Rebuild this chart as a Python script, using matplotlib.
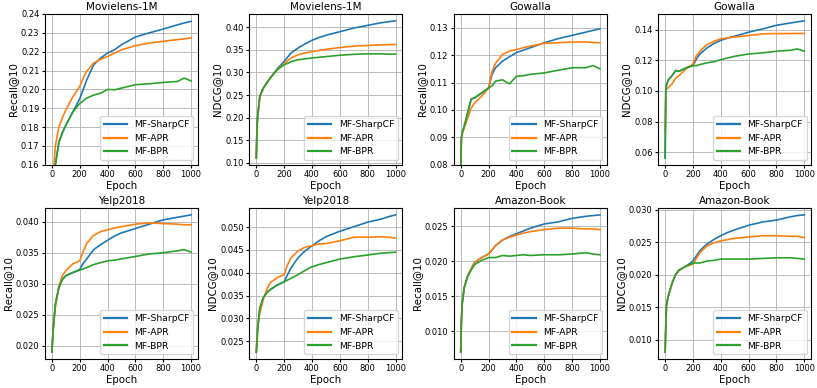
import matplotlib
matplotlib.use('Agg')
import matplotlib.pyplot as plt
from matplotlib.ticker import MultipleLocator

epochs = [0, 5, 10, 25, 50, 75, 100, 150, 200, 225, 250, 300, 350, 400, 450,
          500, 600, 700, 800, 900, 950, 1000]

# Movielens-1M Recall@10
ml_recall_sharp = [0.100, 0.120, 0.135, 0.160, 0.172, 0.177, 0.181, 0.188, 0.1950, 0.2000, 0.2050,
                   0.2130, 0.2166, 0.2193, 0.2210, 0.2237, 0.2278, 0.2300, 0.2320, 0.2342, 0.2352, 0.2361]
ml_recall_apr = [0.110, 0.130, 0.155, 0.170, 0.180, 0.185, 0.189, 0.196, 0.2016, 0.2060, 0.2096,
                 0.2140, 0.2160, 0.2175, 0.2193, 0.2210, 0.2232, 0.2246, 0.2255, 0.2264, 0.2268, 0.2273]
ml_recall_bpr = [0.100, 0.120, 0.135, 0.160, 0.172, 0.177, 0.181, 0.188, 0.1925, 0.1940, 0.1954,
                 0.1970, 0.1980, 0.2000, 0.1998, 0.2007, 0.2025, 0.2030, 0.2037, 0.2042, 0.2060, 0.2045]

# Movielens-1M NDCG@10
ml_ndcg_sharp = [0.111, 0.180, 0.203, 0.247, 0.265, 0.277, 0.2875, 0.308, 0.324, 0.334, 0.343,
                 0.354, 0.363, 0.371, 0.377, 0.382, 0.390, 0.398, 0.404, 0.410, 0.412, 0.414]
ml_ndcg_apr = [0.111, 0.180, 0.203, 0.247, 0.265, 0.277, 0.2875, 0.306, 0.319, 0.326, 0.332,
               0.339, 0.343, 0.346, 0.3485, 0.351, 0.355, 0.358, 0.3596, 0.361, 0.3615, 0.3618]
ml_ndcg_bpr = [0.111, 0.180, 0.203, 0.247, 0.265, 0.277, 0.2875, 0.306, 0.317, 0.320, 0.324,
               0.328, 0.330, 0.332, 0.3335, 0.335, 0.338, 0.340, 0.341, 0.341, 0.3405, 0.3404]

# Gowalla Recall@10
gw_recall_sharp = [0.078, 0.090, 0.0916, 0.094, 0.099, 0.104, 0.1044, 0.1062, 0.108, 0.1129, 0.1154,
                   0.1178, 0.1194, 0.1209, 0.1218, 0.1227, 0.1245, 0.1260, 0.1272, 0.1284, 0.1290, 0.1296]
gw_recall_apr = [0.078, 0.090, 0.0910, 0.0934, 0.097, 0.1007, 0.1026, 0.105, 0.108, 0.1141, 0.1170,
                 0.1202, 0.1215, 0.1220, 0.1227, 0.1233, 0.1243, 0.1245, 0.1248, 0.1248, 0.1246, 0.1245]
gw_recall_bpr = [0.078, 0.090, 0.0916, 0.094, 0.099, 0.104, 0.1044, 0.1062, 0.108, 0.1088, 0.1105,
                 0.1110, 0.1095, 0.1123, 0.1125, 0.1130, 0.1135, 0.1145, 0.1154, 0.1154, 0.1162, 0.1150]

# Gowalla NDCG@10
gw_ndcg_sharp = [0.0563, 0.100, 0.1042, 0.1075, 0.110, 0.1133, 0.1128, 0.115, 0.1165, 0.1209, 0.1241,
                 0.1280, 0.1309, 0.1330, 0.1345, 0.1357, 0.1383, 0.1404, 0.1428, 0.1443, 0.1450, 0.1457]
gw_ndcg_apr = [0.073, 0.1013, 0.101, 0.1024, 0.1046, 0.1083, 0.110, 0.1143, 0.1176, 0.1230, 0.1259,
               0.1302, 0.1324, 0.1339, 0.1346, 0.1352, 0.1361, 0.1372, 0.1374, 0.1374, 0.1375, 0.1374]
gw_ndcg_bpr = [0.0563, 0.100, 0.1042, 0.1075, 0.110, 0.1133, 0.1128, 0.115, 0.1165, 0.1165, 0.1172,
               0.1183, 0.1190, 0.1204, 0.1215, 0.1226, 0.1241, 0.1248, 0.1259, 0.1265, 0.1274, 0.1259]

# Yelp2018 Recall@10
yp_recall_sharp = [0.019, 0.021, 0.0228, 0.0267, 0.0294, 0.0307, 0.0313, 0.0318, 0.0323, 0.0333, 0.0340,
                   0.0355, 0.0363, 0.0370, 0.0377, 0.0382, 0.0389, 0.0396, 0.0403, 0.0407, 0.0409, 0.0411]
yp_recall_apr = [0.019, 0.021, 0.0231, 0.0262, 0.0296, 0.0313, 0.0321, 0.0332, 0.0337, 0.0352, 0.0365,
                 0.0378, 0.0384, 0.0387, 0.0390, 0.0392, 0.0396, 0.0398, 0.0397, 0.0396, 0.0395, 0.0395]
yp_recall_bpr = [0.019, 0.021, 0.0228, 0.0267, 0.0294, 0.0307, 0.0313, 0.0318, 0.0322, 0.0324, 0.0326,
                 0.0331, 0.0334, 0.0337, 0.0338, 0.0340, 0.0344, 0.0348, 0.0350, 0.0353, 0.0355, 0.0351]

# Yelp2018 NDCG@10
yp_ndcg_sharp = [0.0226, 0.025, 0.0278, 0.0322, 0.0345, 0.0356, 0.0363, 0.0373, 0.0380, 0.0396, 0.0411,
                 0.0433, 0.0448, 0.0459, 0.0470, 0.0479, 0.0491, 0.0501, 0.0511, 0.0518, 0.0523, 0.0527]
yp_ndcg_apr = [0.0226, 0.026, 0.0282, 0.0311, 0.0341, 0.0363, 0.0378, 0.0389, 0.0396, 0.0418, 0.0433,
               0.0448, 0.0456, 0.0459, 0.0463, 0.0464, 0.0470, 0.0478, 0.0478, 0.0479, 0.0478, 0.0476]
yp_ndcg_bpr = [0.0226, 0.025, 0.0278, 0.0322, 0.0345, 0.0356, 0.0363, 0.0373, 0.0380, 0.0384, 0.0388,
               0.0396, 0.0405, 0.0413, 0.0418, 0.0422, 0.0430, 0.0435, 0.0439, 0.0443, 0.0444, 0.0445]

# Amazon-Book Recall@10
ab_recall_sharp = [0.0070, 0.0114, 0.0138, 0.0162, 0.0179, 0.0189, 0.0198, 0.0205, 0.0210, 0.0216, 0.0222,
                   0.0230, 0.0235, 0.0239, 0.0243, 0.0247, 0.0253, 0.0256, 0.0261, 0.0264, 0.0265, 0.0266]
ab_recall_apr = [0.0070, 0.0114, 0.0138, 0.0162, 0.0179, 0.0189, 0.0198, 0.0205, 0.0210, 0.0216, 0.0222,
                 0.0230, 0.0234, 0.0237, 0.0240, 0.0242, 0.0245, 0.0247, 0.0247, 0.0246, 0.0246, 0.0245]
ab_recall_bpr = [0.0070, 0.0114, 0.0138, 0.0162, 0.0178, 0.0187, 0.0195, 0.0201, 0.0205, 0.0205, 0.0205,
                 0.0208, 0.0207, 0.0208, 0.0209, 0.0208, 0.0209, 0.0209, 0.0210, 0.0212, 0.0210, 0.0209]

# Amazon-Book NDCG@10
ab_ndcg_sharp = [0.0081, 0.0122, 0.0154, 0.0169, 0.0187, 0.0200, 0.0207, 0.0213, 0.0221, 0.0229, 0.0237,
                 0.0247, 0.0254, 0.0260, 0.0265, 0.0269, 0.0276, 0.0281, 0.0284, 0.0289, 0.0291, 0.0292]
ab_ndcg_apr = [0.0081, 0.0122, 0.0154, 0.0169, 0.0187, 0.0200, 0.0207, 0.0213, 0.0216, 0.0225, 0.0234,
               0.0244, 0.0249, 0.0252, 0.0254, 0.0256, 0.0258, 0.0260, 0.0260, 0.0259, 0.0259, 0.0257]
ab_ndcg_bpr = [0.0081, 0.0122, 0.0154, 0.0169, 0.0187, 0.0200, 0.0207, 0.0213, 0.0218, 0.0218, 0.0218,
               0.0221, 0.0222, 0.0224, 0.0224, 0.0224, 0.0224, 0.0225, 0.0226, 0.0226, 0.0225, 0.0224]

methods = ['MF-SharpCF', 'MF-APR', 'MF-BPR']
colors = ['#1f77b4', '#ff7f0e', '#2ca02c']

# (title, ylabel, series, fixed ylim, y tick step)
panels = [
    ('Movielens-1M', 'Recall@10', [ml_recall_sharp, ml_recall_apr, ml_recall_bpr], (0.16, 0.24), 0.01),
    ('Movielens-1M', 'NDCG@10', [ml_ndcg_sharp, ml_ndcg_apr, ml_ndcg_bpr], None, 0.05),
    ('Gowalla', 'Recall@10', [gw_recall_sharp, gw_recall_apr, gw_recall_bpr], (0.08, 0.135), 0.01),
    ('Gowalla', 'NDCG@10', [gw_ndcg_sharp, gw_ndcg_apr, gw_ndcg_bpr], None, 0.02),
    ('Yelp2018', 'Recall@10', [yp_recall_sharp, yp_recall_apr, yp_recall_bpr], None, 0.005),
    ('Yelp2018', 'NDCG@10', [yp_ndcg_sharp, yp_ndcg_apr, yp_ndcg_bpr], None, 0.005),
    ('Amazon-Book', 'Recall@10', [ab_recall_sharp, ab_recall_apr, ab_recall_bpr], None, 0.005),
    ('Amazon-Book', 'NDCG@10', [ab_ndcg_sharp, ab_ndcg_apr, ab_ndcg_bpr], None, 0.005),
]

fig, axes = plt.subplots(2, 4, figsize=(8.17, 3.88), dpi=100)
plt.subplots_adjust(left=0.055, right=0.993, bottom=0.075, top=0.964,
                    wspace=0.335, hspace=0.286)

for ax, (title, ylabel, series, ylim, step) in zip(axes.flat, panels):
    for name, vals, c in zip(methods, series, colors):
        ax.plot(epochs, vals, color=c, lw=1.2, label=name)
    if ylim is not None:
        ax.set_ylim(*ylim)
    ax.yaxis.set_major_locator(MultipleLocator(step))
    ax.set_xticks([0, 200, 400, 600, 800, 1000])
    ax.set_title(title, fontsize=7.5, pad=3)
    ax.set_xlabel('Epoch', fontsize=7.4, labelpad=1)
    ax.set_ylabel(ylabel, fontsize=7.4, labelpad=2)
    ax.tick_params(labelsize=6, length=2.5, pad=1.5)
    ax.grid(True, color='#b0b0b0', lw=0.6)
    leg = ax.legend(loc='lower right', fontsize=6.7, handlelength=2.5,
                    borderpad=0.4, labelspacing=0.5)
    for line in leg.get_lines():
        line.set_linewidth(1.6)

plt.savefig('out.png', dpi=100)
